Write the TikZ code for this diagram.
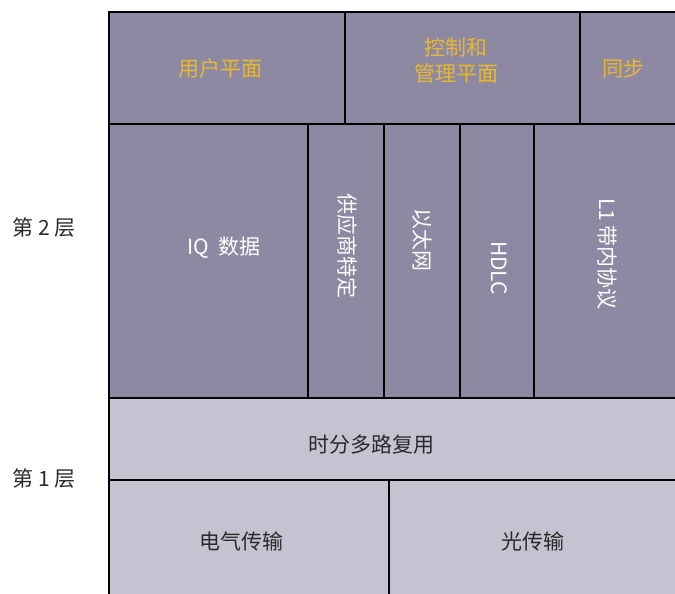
\documentclass[tikz,border=0pt]{standalone}
\usepackage{fontspec}
\newfontfamily\cjk{Noto Sans CJK SC}
\begin{document}
\begin{tikzpicture}[x=1pt,y=-1pt,
  dark/.style={fill=boxdark,draw=black,line width=1.6pt},
  light/.style={fill=boxlight,draw=black,line width=1.6pt},
  gold/.style={text=goldtxt,font=\cjk\fontsize{21}{26}\selectfont,align=center,inner sep=0},
  wht/.style={text=white,font=\cjk\fontsize{21}{26}\selectfont,inner sep=0},
  blk/.style={text=txtdark,font=\cjk\fontsize{21}{26}\selectfont,inner sep=0}]
\definecolor{boxdark}{HTML}{8E89A3}
\definecolor{boxlight}{HTML}{C6C2D2}
\definecolor{goldtxt}{HTML}{E8B830}
\definecolor{txtdark}{HTML}{2A2A2A}
\useasboundingbox (0,0) rectangle (675,594);
% row 1
\draw[dark] (109,12) rectangle (345,124);
\draw[dark] (345,12) rectangle (580,124);
\draw[dark] (580,12) rectangle (680,124);
% row 2
\draw[dark] (109,124) rectangle (308,398);
\draw[dark] (308,124) rectangle (384,398);
\draw[dark] (384,124) rectangle (460,398);
\draw[dark] (460,124) rectangle (534,398);
\draw[dark] (534,124) rectangle (680,398);
% row 3
\draw[light] (109,398) rectangle (680,480);
% row 4
\draw[light] (109,480) rectangle (389,600);
\draw[light] (389,480) rectangle (680,600);
% labels
\node[gold] (up) at (220,69) {用户平面};
\node[gold] (cm) at (456,61) {控制和\\管理平面};
\node[gold] (sy) at (623,69) {同步};
\node[wht] (iq) at (224,248) {IQ\ \ 数据};
\node[wht,rotate=-90] (vs) at (347,246) {供应商特定};
\node[wht,rotate=-90] (eth) at (422,240) {以太网};
\node[wht,rotate=-90] (hdlc) at (499,268) {HDLC};
\node[wht,rotate=-90] (l1) at (607,254) {L1\ 带内协议};
\node[blk] (tdm) at (371,445) {时分多路复用};
\node[blk] (el) at (241,541) {电气传输};
\node[blk] (op) at (533,541) {光传输};
\node[blk] (l2) at (44,228) {第\ 2\ 层};
\node[blk] (l1l) at (44,479) {第\ 1\ 层};
\end{tikzpicture}
\end{document}
